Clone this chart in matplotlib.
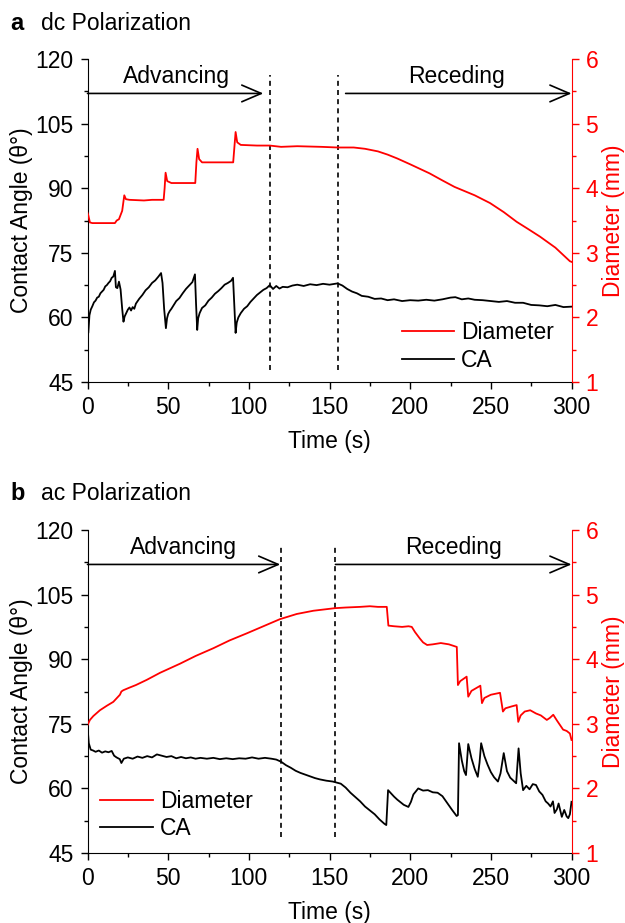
import matplotlib
matplotlib.use("Agg")
import matplotlib.pyplot as plt
from matplotlib.ticker import MultipleLocator

plt.rcParams['font.family'] = ['Liberation Sans', 'DejaVu Sans']

# ---- panel a: dc polarization ----
dc_t_d = [0, 0.5, 1.5, 3, 10, 17, 18.1, 19.5, 21.5, 22.8, 23.8, 26, 35, 40, 47.2,
          47.8, 48.4, 49.4, 52, 60, 66.8, 67.5, 68.2, 69.2, 71, 80, 90.3, 91.0,
          91.8, 92.8, 95, 105, 113, 120, 130, 145, 155, 165, 172, 180, 186, 192,
          200, 206, 212, 220, 227.5, 240, 249.5, 258, 266, 273, 280.5, 290, 299,
          300]
dc_diam = [3.62, 3.58, 3.47, 3.46, 3.46, 3.46, 3.50, 3.52, 3.65, 3.89, 3.83, 3.82,
           3.81, 3.82, 3.82, 4.00, 4.24, 4.11, 4.08, 4.08, 4.08, 4.40, 4.61, 4.45,
           4.40, 4.40, 4.40, 4.62, 4.87, 4.71, 4.67, 4.66, 4.66, 4.64, 4.65, 4.64,
           4.63, 4.63, 4.61, 4.57, 4.52, 4.46, 4.37, 4.30, 4.23, 4.12, 4.02, 3.89,
           3.77, 3.63, 3.48, 3.37, 3.25, 3.08, 2.87, 2.86]

dc_t_ca = [0, 0.5, 1.2, 2, 3, 4, 5, 6, 7, 8, 9, 10, 11, 12, 13, 14, 15, 16, 17,
           17.6, 18.5, 19.5, 20.5, 21.5, 22.3, 23, 24, 25, 26, 27, 28, 29, 30, 32,
           34, 36, 38, 40, 42, 44, 45.6, 46.5, 47.5, 48.6, 49.3, 50, 51, 52, 53,
           55, 57, 59, 61, 63, 65, 66.6, 67.3, 68, 68.6, 69.5, 71, 73, 75, 77, 79,
           81, 83, 85, 87, 89, 90.2, 91, 91.8, 92.5, 93.5, 95, 97, 99, 101, 103,
           105, 107, 109, 111, 113, 115, 117, 119, 121, 124, 127, 130, 134, 138,
           142, 146, 150, 155, 158, 161, 164, 167, 170, 174, 178, 182, 186, 190,
           195, 200, 205, 210, 215, 220, 225, 228, 232, 236, 240, 245, 250, 255,
           260, 265, 270, 275, 280, 285, 290, 295, 300]
dc_ca = [60.2, 56.4, 60.5, 61.8, 62.6, 63.5, 63.9, 64.6, 64.8, 65.6, 66.0, 66.4,
         67.2, 67.5, 68.0, 68.4, 69.2, 69.5, 70.8, 67.0, 66.8, 68.3, 66.5, 62.0,
         59.0, 60.2, 61.0, 61.8, 62.3, 61.6, 62.4, 62.0, 63.2, 64.3, 65.2, 66.3,
         67.0, 68.0, 68.6, 69.5, 70.3, 68.0, 62.0, 57.5, 59.8, 60.8, 61.5, 62.0,
         62.6, 63.8, 64.5, 65.6, 66.6, 67.4, 68.2, 70.0, 63.0, 57.1, 59.8, 61.0,
         62.2, 62.8, 63.9, 64.6, 65.5, 66.1, 66.8, 67.6, 68.0, 68.5, 69.2, 63.0,
         56.4, 58.8, 60.0, 61.0, 62.0, 62.6, 63.6, 64.4, 65.2, 65.8, 66.4, 66.8,
         67.5, 66.6, 67.3, 66.7, 67.1, 67.0, 67.4, 67.6, 67.3, 67.7, 67.5, 67.8,
         67.6, 67.9, 67.4, 66.6, 66.0, 65.6, 65.0, 64.8, 64.3, 64.4, 64.0, 64.2,
         63.8, 64.0, 63.9, 64.1, 63.9, 64.2, 64.6, 64.7, 64.2, 64.4, 64.1, 64.0,
         63.8, 63.6, 63.8, 63.4, 63.4, 62.9, 62.8, 62.6, 62.9, 62.4, 62.5]

# ---- panel b: ac polarization ----
ac_t_d = [0, 1.5, 3.6, 7.7, 12, 16, 20.1, 21, 22.2, 26, 30, 36.7, 45, 57.3, 67,
          78, 88, 98.7, 109, 119.3, 129.7, 140, 153.4, 160, 169, 175, 180, 185.5,
          186.5, 190, 195, 199, 201, 203, 206, 208, 210.5, 214, 219, 224, 228.9,
          229.6, 231, 235, 236, 238, 243.5, 244.5, 246, 250, 255.7, 257.5, 259,
          263, 266, 267, 268.5, 271, 274.4, 278, 281, 284.7, 286.5, 288.7, 291,
          294.8, 297, 299, 300]
ac_diam = [2.98, 3.06, 3.12, 3.21, 3.28, 3.34, 3.45, 3.50, 3.52, 3.56, 3.60, 3.68,
           3.79, 3.93, 4.05, 4.17, 4.29, 4.40, 4.51, 4.62, 4.70, 4.75, 4.79, 4.80,
           4.81, 4.82, 4.81, 4.81, 4.52, 4.51, 4.50, 4.51, 4.50, 4.42, 4.32, 4.26,
           4.22, 4.23, 4.25, 4.23, 4.19, 3.60, 3.66, 3.73, 3.42, 3.51, 3.59, 3.32,
           3.40, 3.45, 3.48, 3.19, 3.24, 3.27, 3.29, 3.03, 3.13, 3.19, 3.21, 3.16,
           3.13, 3.06, 3.09, 3.14, 3.05, 2.91, 2.89, 2.85, 2.75]

ac_t_ca = [0, 0.8, 2, 3.5, 5, 7, 9, 11, 13, 15, 16.5, 18, 20, 21, 22.5, 25, 28, 31,
           34, 37, 40, 43, 46, 49, 52, 55, 58, 61, 64, 67, 70, 74, 78, 82, 86, 90,
           94, 98, 102, 106, 110, 114, 117, 120, 123, 126, 129, 132, 135, 138,
           141, 144, 148, 152, 155, 157, 160, 163, 166, 169, 172, 175, 178, 181,
           184, 185.2, 186.3, 188, 190, 192, 194, 196, 198.9, 200.5, 202, 205,
           208, 211, 214, 217, 220, 223, 226, 228.8, 229.6, 230.3, 232, 233.5,
           234.6, 236, 238, 240, 241.9, 243, 244, 246, 248, 250, 252, 254.4, 256,
           258, 260, 262, 264, 265.7, 267.2, 268.5, 270, 272, 274, 276, 278, 280,
           282, 284, 285.5, 287, 288.5, 289.5, 291, 292, 293, 294, 295.5, 297,
           298, 299, 300]
ac_ca = [74.3, 70.5, 69.0, 68.8, 68.5, 68.8, 68.3, 68.6, 68.4, 68.7, 67.6, 67.2,
         66.8, 65.9, 66.9, 67.2, 66.9, 67.4, 67.1, 67.5, 67.2, 67.9, 67.6, 67.3,
         67.5, 67.0, 67.3, 67.0, 67.2, 66.9, 67.1, 66.9, 67.1, 66.8, 67.0, 66.8,
         67.0, 66.9, 67.2, 66.9, 67.1, 66.9, 66.7, 66.2, 65.4, 64.8, 64.1, 63.6,
         63.2, 62.8, 62.4, 62.1, 61.8, 61.6, 61.3, 61.1, 60.2, 59.0, 58.0, 57.0,
         55.8, 54.9, 54.0, 52.8, 51.8, 51.5, 59.6, 58.9, 58.1, 57.4, 56.8, 56.2,
         55.7, 56.9, 58.6, 60.0, 59.5, 59.6, 59.1, 59.0, 58.2, 56.6, 55.0, 53.6,
         53.8, 70.5, 66.5, 64.0, 63.1, 70.3, 67.0, 64.5, 62.7, 66.0, 70.5, 67.5,
         65.5, 63.8, 62.6, 61.6, 63.5, 68.2, 64.0, 62.5, 61.8, 61.2, 69.3, 63.5,
         59.6, 60.6, 59.8, 61.0, 60.8, 59.3, 58.5, 57.0, 56.5, 55.8, 57.0, 54.3,
         55.2, 56.5, 55.0, 53.4, 55.0, 53.5, 53.1, 54.0, 56.9]

panels = [
    dict(letter='a', title='dc Polarization', t_d=dc_t_d, diam=dc_diam,
         t_ca=dc_t_ca, ca=dc_ca, dash=[113.1, 155.5], dash_y=(47.8, 116.3),
         adv=(0, 109), rec=(160, 300), adv_x=55.3, rec_x=229,
         leg=(0.649, 0.11)),
    dict(letter='b', title='ac Polarization', t_d=ac_t_d, diam=ac_diam,
         t_ca=ac_t_ca, ca=ac_ca, dash=[120, 153.4], dash_y=(48.7, 116.1),
         adv=(0, 119.5), rec=(153.7, 300), adv_x=59.2, rec_x=226.6,
         leg=(0.026, 0.118)),
]

fig = plt.figure(figsize=(6.25, 9.23), dpi=100)
rects = [[0.140, 0.5861, 0.7744, 0.3500], [0.140, 0.0758, 0.7744, 0.3500]]
title_y = [0.9675, 0.4583]
red = '#ff0000'
fs = 16.5

for p, rect, ty in zip(panels, rects, title_y):
    ax = fig.add_axes(rect)
    ax2 = ax.twinx()
    l1, = ax2.plot(p['t_d'], p['diam'], color=red, lw=1.3, label='Diameter')
    l2, = ax.plot(p['t_ca'], p['ca'], color='black', lw=1.3, label='CA')

    ax.set_xlim(0, 300)
    ax.set_ylim(45, 120)
    ax2.set_ylim(1, 6)
    ax.set_xticks([0, 50, 100, 150, 200, 250, 300])
    ax.xaxis.set_minor_locator(MultipleLocator(25))
    ax.set_yticks([45, 60, 75, 90, 105, 120])
    ax.yaxis.set_minor_locator(MultipleLocator(7.5))
    ax2.set_yticks([1, 2, 3, 4, 5, 6])
    ax2.yaxis.set_minor_locator(MultipleLocator(0.5))

    for a in (ax, ax2):
        a.spines['top'].set_visible(False)
    ax.spines['right'].set_visible(False)
    ax2.spines['left'].set_visible(False)
    ax2.spines['bottom'].set_visible(False)
    ax2.spines['right'].set_color(red)

    ax.tick_params(which='major', direction='out', length=5, width=1,
                   labelsize=fs, pad=5)
    ax.tick_params(which='minor', direction='out', length=3, width=1)
    ax2.tick_params(which='major', direction='out', length=5, width=1,
                    labelsize=fs, pad=5, colors=red)
    ax2.tick_params(which='minor', direction='out', length=3, width=1,
                    colors=red)

    ax.set_xlabel('Time (s)', fontsize=fs, labelpad=8)
    ax.set_ylabel('Contact Angle (θ°)', fontsize=fs, labelpad=2)
    ax2.set_ylabel('Diameter (mm)', fontsize=fs, color=red, labelpad=3)

    # phase markers
    for x in p['dash']:
        ax.plot([x, x], p['dash_y'], color='black', lw=1.2, ls=(0, (3, 2.5)))
    arrow = dict(arrowstyle='->, head_length=0.7, head_width=0.3',
                 lw=1.2, color='black', mutation_scale=20,
                 shrinkA=0, shrinkB=0)
    ax.annotate('', xy=(p['adv'][1], 112), xytext=(p['adv'][0], 112),
                arrowprops=arrow, annotation_clip=False)
    ax.annotate('', xy=(p['rec'][1], 112), xytext=(p['rec'][0], 112),
                arrowprops=arrow, annotation_clip=False)
    ax.text(p['adv_x'], 116, 'Advancing', fontsize=16.5, ha='center',
            va='center')
    ax.text(p['rec_x'], 116, 'Receding', fontsize=16.5, ha='center',
            va='center')

    ax2.legend([l1, l2], ['Diameter', 'CA'], loc='center left',
               bbox_to_anchor=p['leg'], frameon=False, fontsize=16.5,
               handlelength=2.3, handletextpad=0.3, labelspacing=0.2,
               borderpad=0, borderaxespad=0)

    fig.text(0.016, ty, p['letter'], fontsize=17, fontweight='bold',
             va='baseline')
    fig.text(0.066, ty, p['title'], fontsize=16.5, va='baseline')

fig.savefig('out.png', dpi=100)
